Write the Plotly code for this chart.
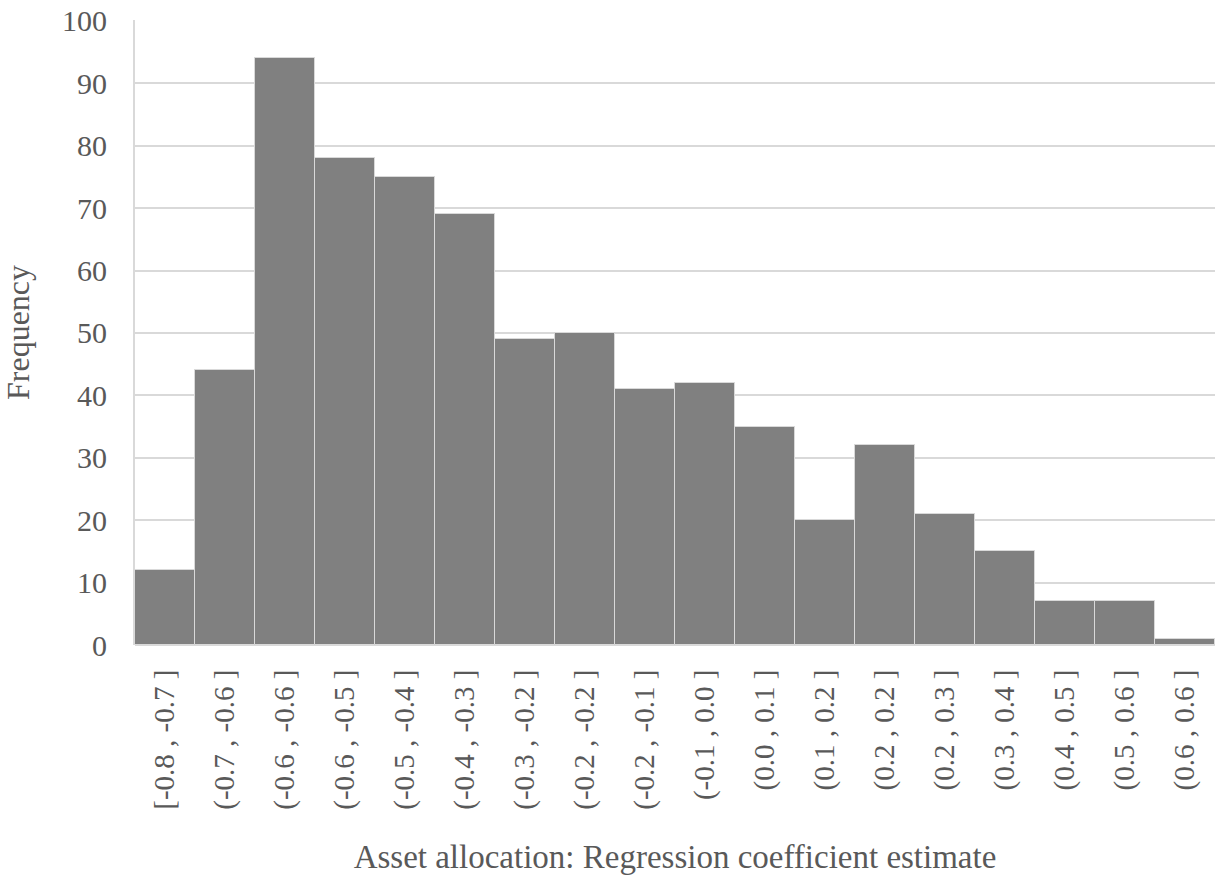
import plotly.graph_objects as go

categories = ["[-0.8 , -0.7 ]", "(-0.7 , -0.6 ]", "(-0.6 , -0.6 ]", "(-0.6 , -0.5 ]",
              "(-0.5 , -0.4 ]", "(-0.4 , -0.3 ]", "(-0.3 , -0.2 ]", "(-0.2 , -0.2 ]",
              "(-0.2 , -0.1 ]", "(-0.1 , 0.0 ]", "(0.0 , 0.1 ]", "(0.1 , 0.2 ]",
              "(0.2 , 0.2 ]", "(0.2 , 0.3 ]", "(0.3 , 0.4 ]", "(0.4 , 0.5 ]",
              "(0.5 , 0.6 ]", "(0.6 , 0.6 ]"]
frequency = [12, 44, 94, 78, 75, 69, 49, 50, 41, 42, 35, 20, 32, 21, 15, 7, 7, 1]
y_ticks = list(range(0, 101, 10))

FONT = "Liberation Serif, Times New Roman, serif"
TXT = "#595959"
CLEAR = "rgba(0,0,0,0)"

fig = go.Figure(go.Bar(
    x=categories, y=frequency,
    marker=dict(color="#808080", line=dict(color="#d9d9d9", width=1)),
))
fig.update_layout(
    width=1215, height=878,
    margin=dict(l=135, r=0, t=20, b=233),
    paper_bgcolor="white", plot_bgcolor="white",
    bargap=0,
    font=dict(family=FONT, color=TXT, size=28),
    showlegend=False,
    xaxis=dict(
        automargin=False,
        tickangle=-90, tickfont=dict(size=29, family=FONT, color=TXT),
        showgrid=False, showline=False,
        ticks="outside", ticklen=12, tickcolor=CLEAR,
        title=dict(text="Asset allocation: Regression coefficient estimate",
                   font=dict(size=33, family=FONT, color=TXT), standoff=36),
    ),
    yaxis=dict(
        automargin=False,
        range=[0, 100.15], tickvals=y_ticks, tickfont=dict(size=30, family=FONT, color=TXT),
        ticklabeloverflow="allow",
        showgrid=True, gridcolor="#d9d9d9", gridwidth=2,
        showline=True, linecolor="#d9d9d9", linewidth=2,
        zeroline=True, zerolinecolor="#d9d9d9", zerolinewidth=2,
        ticks="outside", ticklen=20, tickcolor=CLEAR,
        title=dict(text="Frequency", font=dict(size=32, family=FONT, color=TXT), standoff=38),
    ),
)
fig.write_html("out.html",
               config={"displayModeBar": False},
               post_script="document.body.style.margin='0';document.body.style.overflow='hidden';")
